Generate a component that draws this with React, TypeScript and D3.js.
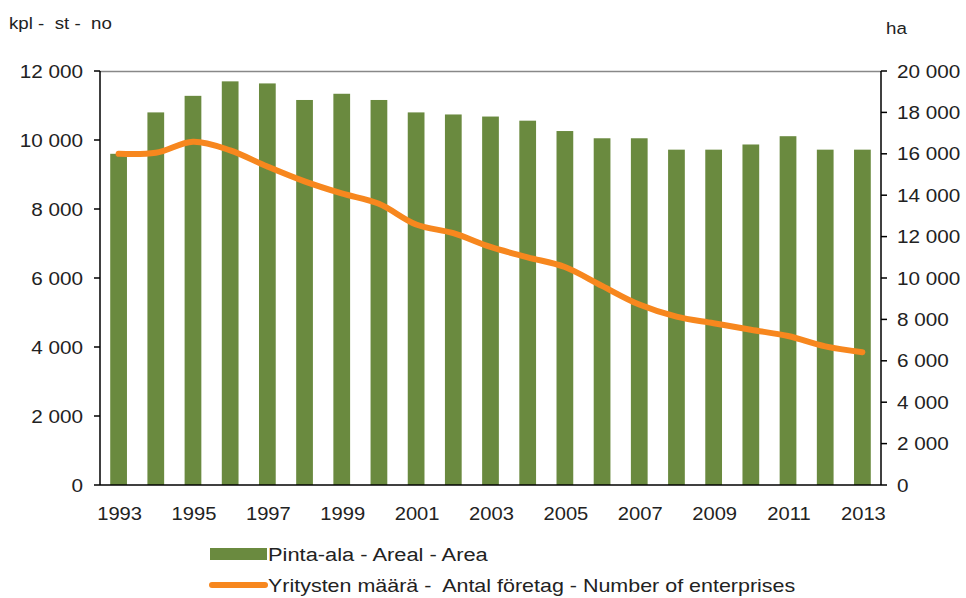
import React from "react";
import * as d3 from "d3";

const years = ["1993", "1994", "1995", "1996", "1997", "1998", "1999", "2000", "2001", "2002", "2003",
  "2004", "2005", "2006", "2007", "2008", "2009", "2010", "2011", "2012", "2013"];
// Pinta-ala (ha), right axis
const area = [16000, 18000, 18800, 19500, 19400, 18600, 18900, 18600, 18000, 17900, 17800,
  17600, 17100, 16750, 16750, 16200, 16200, 16450, 16850, 16200, 16200];
// Yritysten määrä (kpl), left axis
const enterprises = [9600, 9630, 9950, 9700, 9230, 8800, 8450, 8150, 7550, 7300, 6900,
  6600, 6320, 5770, 5230, 4880, 4690, 4500, 4320, 4020, 3850];
const leftTicks = [0, 2000, 4000, 6000, 8000, 10000, 12000];
const rightTicks = [0, 2000, 4000, 6000, 8000, 10000, 12000, 14000, 16000, 18000, 20000];
const xLabels = ["1993", "1995", "1997", "1999", "2001", "2003", "2005", "2007", "2009", "2011", "2013"];

const W = 966, H = 598;
const left = 100, right = 881, top = 71, bottom = 485;
const green = "#6a8a3f";
const orange = "#f7871e";
const font = "'Liberation Sans', Arial, sans-serif";
const textColor = "#222";

const fmt = (v: number) => d3.format(",")(v).replace(/,/g, " ");

// the source picture's text is a bit wider than plain Arial, so stretch it horizontally
const T = ({ x, y, size, anchor = "start", sx = 1.15, children }:
  { x: number; y: number; size: number; anchor?: string; sx?: number; children: React.ReactNode }) => (
  <g transform={`translate(${x},${y}) scale(${sx},1)`}>
    <text fontSize={size} textAnchor={anchor} style={{ whiteSpace: "pre" }}>{children}</text>
  </g>
);

export default function App() {
  const x = d3.scaleBand<string>().domain(years).range([left, right]).paddingInner(0.55).paddingOuter(0.275);
  const yL = d3.scaleLinear().domain([0, 12000]).range([bottom, top]);
  const yR = d3.scaleLinear().domain([0, 20000]).range([bottom, top]);
  const cx = (d: string) => (x(d) ?? 0) + x.bandwidth() / 2;

  const line = d3.line<number>()
    .x((_, i) => cx(years[i]))
    .y(d => yL(d))
    .curve(d3.curveCatmullRom.alpha(0.5));

  return (
    <svg width={W} height={H} style={{ position: "absolute", left: 0, top: 0, background: "#fff" }}
      fontFamily={font} fill={textColor}>
      <T x={9} y={29} size={17} sx={1.1}>{"kpl -  st -  no"}</T>
      <T x={886} y={34} size={17} sx={1.1}>ha</T>

      {/* bars */}
      {area.map((v, i) => (
        <rect key={years[i]} x={x(years[i])} y={yR(v)} width={x.bandwidth()} height={bottom - yR(v)} fill={green} />
      ))}

      {/* top border */}
      <line x1={left} x2={right} y1={top + 0.5} y2={top + 0.5} stroke="#888" strokeWidth={1.5} />

      {/* line series */}
      <path d={line(enterprises) ?? ""} fill="none" stroke={orange} strokeWidth={6} strokeLinejoin="round" strokeLinecap="round" />

      {/* left axis */}
      <line x1={left} x2={left} y1={top} y2={bottom} stroke="#000" strokeWidth={1.5} />
      {leftTicks.map(t => (
        <g key={"l" + t}>
          <line x1={left - 6} x2={left} y1={yL(t)} y2={yL(t)} stroke="#000" strokeWidth={1.5} />
          <T x={left - 17} y={yL(t) + 6.5} size={18} anchor="end">{fmt(t)}</T>
        </g>
      ))}

      {/* right axis */}
      <line x1={right} x2={right} y1={top} y2={bottom} stroke="#000" strokeWidth={1.5} />
      {rightTicks.map(t => (
        <g key={"r" + t}>
          <line x1={right} x2={right + 6} y1={yR(t)} y2={yR(t)} stroke="#000" strokeWidth={1.5} />
          <T x={right + 16} y={yR(t) + 6.5} size={18}>{fmt(t)}</T>
        </g>
      ))}

      {/* x axis */}
      <line x1={left} x2={right} y1={bottom} y2={bottom} stroke="#000" strokeWidth={1.5} />
      {xLabels.map(l => (
        <T key={l} x={cx(l) + 1} y={520} size={18} anchor="middle" sx={1.12}>{l}</T>
      ))}

      {/* legend */}
      <rect x={210} y={548} width={57} height={12} fill={green} />
      <T x={268} y={561} size={19}>Pinta-ala - Areal - Area</T>
      <line x1={212} x2={265} y1={585} y2={585} stroke={orange} strokeWidth={6} strokeLinecap="round" />
      <T x={268} y={592} size={19} sx={1.13}>{"Yritysten määrä -  Antal företag - Number of enterprises"}</T>
    </svg>
  );
}
